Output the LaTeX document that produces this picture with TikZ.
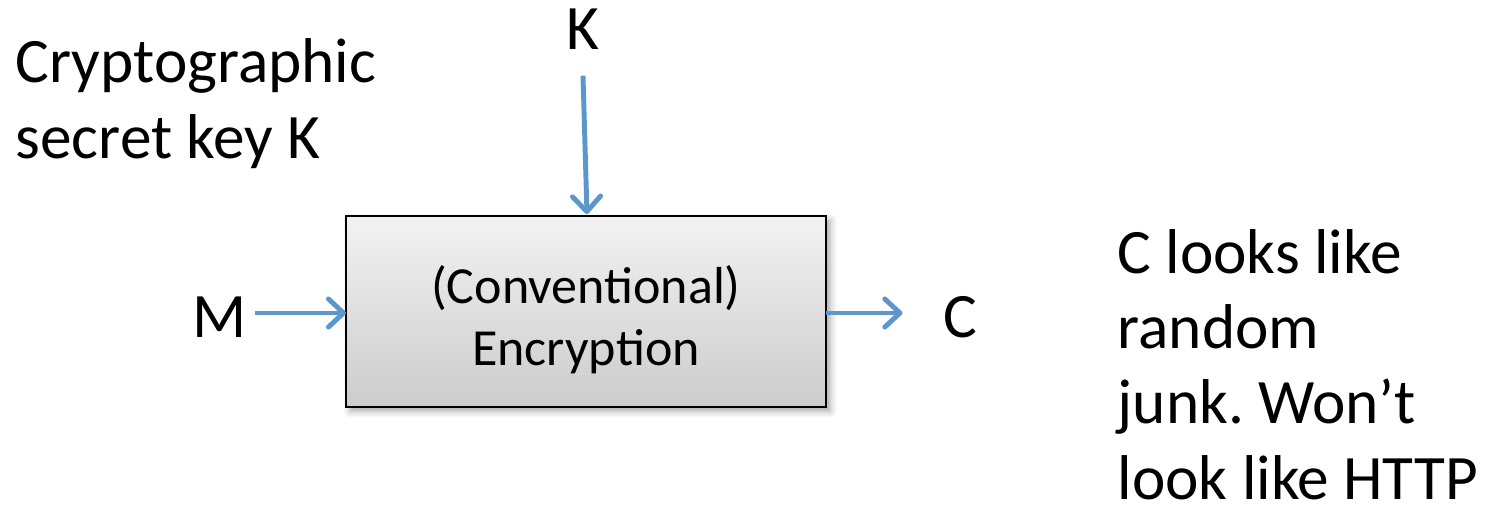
\documentclass[tikz,border=0pt]{standalone}
\usepackage{fontspec}
\setmainfont{Carlito}
\frenchspacing
\usetikzlibrary{arrows.meta,shadows.blur}
\definecolor{flow}{RGB}{91,150,205}
\tikzset{
  big/.style={font=\fontsize{18}{21.4}\selectfont, inner sep=0pt, align=left},
  small/.style={font=\fontsize{14.8}{17.6}\selectfont, inner sep=0pt, align=center},
  encbox/.style={draw=black, line width=0.8pt, top color=gray!10, bottom color=gray!40,
    blur shadow={shadow xshift=1.2pt, shadow yshift=-1.2pt, shadow blur steps=4, shadow opacity=35}},
  flowarrow/.style={draw=flow, line width=1.4pt,
    -{Straight Barb[length=4.3pt, width=8pt, line width=1.4pt, round]}}
}
\begin{document}
\begin{tikzpicture}[x=0.01cm, y=-0.01cm]
  \useasboundingbox (0,0) rectangle (1499,509);
  % encryption block
  \draw[encbox] (346,216) rectangle (826,407);
  \node[small, anchor=base] (enc) at (586,365) {(Conventional)\\Encryption};
  \coordinate (boxW) at (346,313);
  \coordinate (boxE) at (826,313);
  \coordinate (boxN) at (587,214);
  % labels
  \node[big, anchor=base] (M) at (220,337) {M};
  \node[big, anchor=base] (C) at (960,337) {C};
  \node[big, anchor=base] (K) at (583,50) {K};
  \node[big, anchor=base west] (keytext) at (15,158) {Cryptographic\\secret key K};
  \node[big, anchor=base west] (note) at (1117,499) {C looks like\\random\\junk. Won’t\\look like HTTP};
  % flows
  \draw[flowarrow] ([xshift=0.07cm]M.east |- boxW) -- (boxW);
  \draw[flowarrow] (boxE) -- ([xshift=-0.4cm]C.west |- boxE);
  \draw[flowarrow] ([yshift=-0.25cm]K.south) -- (boxN);
\end{tikzpicture}
\end{document}
